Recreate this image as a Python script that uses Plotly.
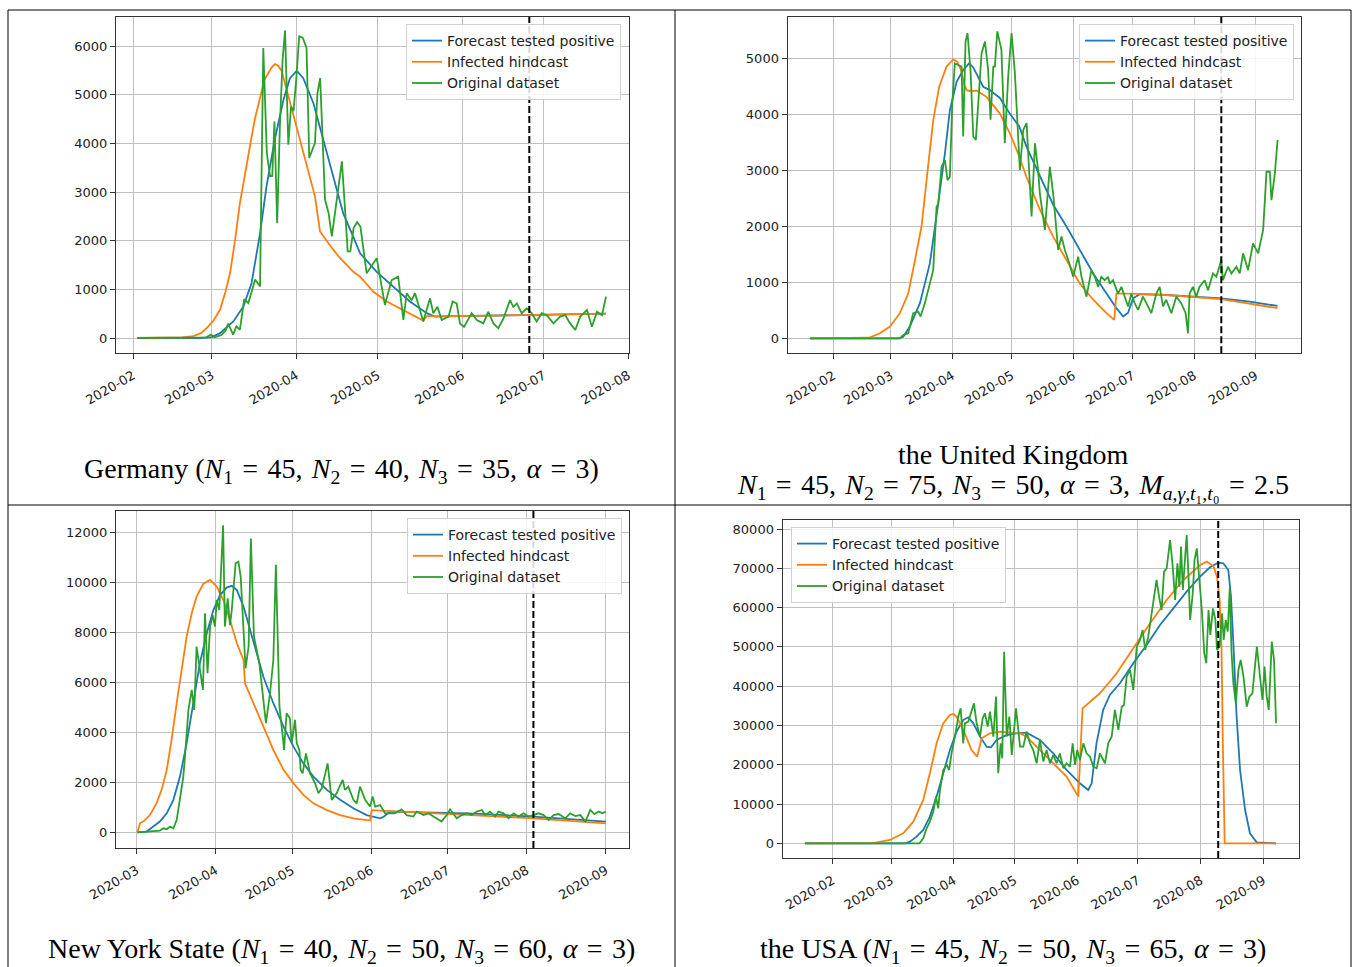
import pandas as pd
import plotly.graph_objects as go

BLUE, ORANGE, GREEN = "#1f77b4", "#ff7f0e", "#2ca02c"
SERIES_NAMES = ["Forecast tested positive", "Infected hindcast", "Original dataset"]

# ---------------- Germany (day offsets from 2020-02-01) ----------------
de_base = "2020-02-01"
de_green_day = [1.6, 15, 25, 27, 28.6, 30, 32.5, 34, 35, 36.8, 38, 39.3, 40.9, 42.4, 44.9, 46.7, 47.9, 49.2, 50.4, 51.2,
                52.0, 53.0, 54.0, 55.0, 55.9, 57.1, 58.1, 59, 60.0, 61.1, 62.4, 63.8, 64.8, 66.9, 67.8, 68.8, 70.6, 71.9,
                73.1, 75.6, 76.8, 78.7, 78.9, 79.9, 81.1, 82.4, 83.6, 85.9, 89.6, 92.6, 95.1, 97.5, 99.4, 100.6, 102.4,
                103.7, 106.7, 109.2, 110.4, 111.9, 113.5, 116, 117.5, 119, 120.2, 121.7, 124.5, 126.4, 128.8, 130.6,
                132.5, 134.3, 136.2, 138.6, 139.8, 141.1, 142.9, 144.8, 146.6, 148.4, 150.3, 152.1, 154.6, 157, 158.9,
                160.7, 162.6, 164.4, 166.9, 168.7, 170.6, 172.4, 173.9]
de_green_val = [0, 0, 5, 15, 70, 15, 60, 150, 295, 70, 240, 170, 800, 720, 1200, 1060, 5960, 3800, 3320, 3330,
                4450, 2360, 4350, 5720, 6320, 3970, 4760, 4660, 5300, 6200, 6170, 5960, 3700, 4010, 5030, 5340, 2840, 2570,
                2090, 3150, 3630, 1990, 1780, 1780, 2260, 2380, 2290, 1330, 1640, 680, 1190, 1260, 370, 920, 780,
                920, 340, 815, 510, 640, 370, 440, 750, 710, 300, 230, 510, 370, 300, 540,
                300, 200, 400, 780, 640, 710, 510, 610, 510, 340, 510, 470, 300, 440, 470,
                300, 165, 440, 575, 230, 540, 470, 850]
de_orange_day = [1.6, 12, 18, 22.2, 25, 27.1, 29.5, 32, 34, 35.7, 37.5, 39.3, 41.2, 43, 44.8, 46.7, 48.3, 49.8, 51, 52.2,
                 53.5, 54.7, 56.5, 58.9, 61, 63.2, 65, 66.9, 68.75, 71, 73.6, 76, 78.6, 81, 83.5, 88.4, 93.3, 99.4, 103,
                 106.7, 108, 120.2, 144.8, 173.9]
de_orange_val = [0, 3, 12, 40, 100, 205, 350, 580, 950, 1340, 2000, 2770, 3400, 3940, 4500, 4970, 5300, 5450, 5560, 5630,
                 5590, 5480, 5100, 4550, 4100, 3660, 3300, 2910, 2190, 2010, 1815, 1650, 1500, 1360, 1260, 950, 750, 575, 460,
                 360, 450, 450, 470, 500]
de_blue_day = [1.6, 25, 29, 32, 36.9, 40.6, 43.6, 46.7, 49.1, 52.2, 55.3, 57.7, 60.2, 62.6, 66.3, 70, 73.6, 77.3, 81,
               83.5, 89.6, 95.7, 101.8, 108, 111, 120, 145, 173.9]
de_blue_val = [0, 0, 20, 100, 340, 650, 1130, 2150, 3120, 4100, 4890, 5340, 5490, 5340, 4830, 4070, 3320, 2560, 2080,
               1740, 1360, 1050, 750, 510, 440, 450, 480, 500]
de_cut_day = 145.7
de_xrange_day = [-6.25, 182.35]
de_yrange = [-308, 6596]
de_yticks = [0, 1000, 2000, 3000, 4000, 5000, 6000]
de_xticks = ["2020-02-01", "2020-03-01", "2020-04-01", "2020-05-01", "2020-06-01", "2020-07-01", "2020-08-01"]

# ---------------- United Kingdom (day offsets from 2020-02-01) ----------------
uk_base = "2020-02-01"
uk_green_day = [-11.8, 0, 20, 33.6, 35.3, 37.8, 40.3, 42.8, 44, 46.2, 48.7, 50.4, 52.1, 52.9, 54.6, 56.3, 57.6, 58.8, 60,
                61.3, 63, 64.7, 65.5, 66.7, 67.7, 69.2, 70.6, 71.9, 73.1, 74.8, 76.5, 78.1, 79.3, 80.7, 81.5, 82.7, 84.8,
                86.5, 88.2, 89.9, 91.6, 94.1, 95.8, 97.5, 100, 101.7, 103.3, 104.2, 106.7, 109.2, 110.9, 113.4, 115.1,
                116.8, 118.5, 121, 123.5, 125.2, 127.7, 130.2, 131.9, 133.6, 135.2, 136.9, 138.6, 139.4, 141.1, 143.6,
                145.3, 147, 148.7, 150.3, 152, 153.7, 156.2, 157.9, 160.4, 162.9, 164.6, 166.3, 167.9, 170.5, 173,
                175.5, 177.7, 178.9, 179.7, 181.4, 183.1, 184.7, 187.3, 189, 191.5, 193.2, 195.7, 196.5, 199.1, 200.8,
                203.3, 205, 206.7, 209.2, 211.7, 214.3, 216.8, 218.5, 220.2, 221, 222.7, 224.1]
uk_green_val = [0, 0, 0, 0, 60, 90, 450, 480, 390, 630, 980, 1220, 2360, 2390, 3070, 3190, 2830, 2890, 4200,
                4920, 4890, 4860, 3610, 5310, 5460, 4800, 3610, 3550, 4200, 5100, 5310, 4800, 3910, 4860, 4860, 5490, 5160,
                3490, 4680, 5460, 4740, 3010, 3730, 3850, 2180, 3490, 3010, 2590, 1940, 3070, 2590, 1580, 1820,
                1580, 1400, 1100, 1460, 1100, 745, 1220, 1100, 920, 1100, 1040, 1100, 980, 1040, 800,
                920, 745, 570, 800, 630, 510, 745, 630, 450, 800, 920, 570, 690, 450, 745,
                630, 450, 90, 800, 920, 745, 920, 1040, 860, 1160, 1100, 1400, 1040, 1280, 1160,
                1280, 1160, 1520, 1220, 1700, 1520, 1940, 2980, 2980, 2470, 2950, 3550]
uk_orange_day = [-11.8, 10, 18, 23.5, 28.6, 33.6, 37.8, 41.2, 44.5, 47.6, 50.4, 53.4, 57.1, 60.5, 62.5, 64.4, 66, 67.2,
                 69.5, 72.3, 77.3, 84, 89, 93.2, 97.4, 104.2, 110.9, 117.6, 124.3, 131.1, 137.8, 141.7, 142.8, 150, 168,
                 195.7, 224.1]
uk_orange_val = [0, 2, 10, 90, 210, 450, 800, 1400, 2000, 3010, 3900, 4500, 4860, 4990, 4950, 4800, 4550, 4440,
                 4420, 4430, 4320, 4020, 3670, 3310, 2890, 2300, 1820, 1400, 980, 690, 450, 330, 800, 800, 775,
                 700, 540]
uk_blue_day = [-11.8, 33, 35.3, 38.6, 43.7, 48.7, 52.9, 56.3, 58.8, 62.2, 65.5, 68.5, 70.5, 72.2, 75.6, 78.9, 84, 89,
               93.8, 97.4, 104.2, 110.9, 117.6, 124.3, 131.1, 137.8, 142.8, 146.2, 148.7, 151.2, 154.6, 168, 184.7,
               195.7, 210, 224.1]
uk_blue_val = [0, 0, 30, 210, 630, 1340, 2410, 3310, 4080, 4590, 4800, 4920, 4850, 4740, 4500, 4440, 4300, 4020,
               3790, 3430, 2890, 2390, 2000, 1580, 1160, 800, 540, 390, 460, 715, 790, 775, 745,
               715, 655, 580]
uk_cut_day = 195.7
uk_xrange_day = [-23.0, 235.9]
uk_yrange = [-268, 5748]
uk_yticks = [0, 1000, 2000, 3000, 4000, 5000]
uk_xticks = ["2020-02-01", "2020-03-01", "2020-04-01", "2020-05-01", "2020-06-01", "2020-07-01", "2020-08-01",
             "2020-09-01"]

# ---------------- New York State (day offsets from 2020-03-01) ----------------
ny_base = "2020-03-01"
ny_green_day = [0.3, 3.9, 9.1, 10.5, 11.8, 13.1, 14.4, 15.7, 17, 18.3, 18.95, 20.3, 21.6, 22.6, 23.5, 25.5, 26, 26.8,
                27.8, 28.8, 29.8, 30.7, 31.4, 32.4, 33.9, 34.6, 35.7, 36.6, 37.3, 38.8, 39.9, 40.8, 41.6, 42.7, 43.9,
                44.8, 46, 48.1, 49.4, 50.7, 52.3, 53.6, 54.6, 56, 57.3, 57.8, 58.8, 60.1, 60.8, 62.1, 62.8, 63.8, 64.3,
                65.1, 66.4, 68, 70, 71.3, 72.6, 73.9, 74.9, 76.5, 78.4, 80.8, 81.7, 83, 85, 86.3, 87.6, 89.6, 91.5,
                92.6, 93.5, 95.5, 97.4, 99.4, 101.3, 103.9, 105.9, 108.5, 109.8, 112.5, 114.4, 116.4, 119.6, 121.6,
                122.9, 125.5, 127.5, 129.5, 131.4, 133.4, 135.4, 136.7, 138.6, 140.6, 141.9, 143.9, 145.8, 147.8,
                149.8, 151.7, 153.7, 155.6, 157.6, 159.6, 161.5, 163.5, 165.5, 168.1, 170, 172, 174, 176, 177.9,
                179.5, 181.2, 182.7, 184]
ny_green_val = [0, 30, 70, 160, 120, 230, 160, 490, 1300, 2230, 3030, 4900, 5700, 4900, 7440, 5970, 5700, 8770,
                6370, 8240, 8700, 8240, 9300, 8900, 12300, 8240, 9370, 8300, 8900, 10770, 10840, 10240, 8500, 6570, 7440,
                11770, 7840, 6770, 5570, 4370, 5570, 6900, 10710, 5030, 3830, 3300, 4770, 4570, 3560, 4500, 3560, 3300, 2500,
                2360, 3160, 2360, 1960, 1560, 1760, 2360, 2760, 1300, 1560, 2100, 1700, 1830, 1300, 1160, 1830, 1300, 1030,
                1430, 1030, 1090, 760, 760, 760, 920, 690, 630, 830, 690, 760, 630, 430, 690,
                920, 560, 690, 760, 690, 830, 895, 690, 830, 630, 830, 760, 560, 760,
                630, 760, 630, 690, 760, 690, 490, 690, 730, 560, 760, 650, 690, 430, 895,
                730, 830, 760, 830]
ny_orange_day = [0.3, 1.3, 2.6, 5.2, 7.8, 9.8, 11.8, 13.7, 15.7, 17.7, 19.6, 21.6, 23.5, 26.1, 28.8, 31.4, 34, 36.6,
                 39.3, 41.9, 42.5, 45.8, 49.7, 53.6, 57.6, 61.5, 65.4, 69.3, 74.6, 79.8, 85, 91.5, 92.2, 104.6, 130.7,
                 155.6, 184]
ny_orange_val = [0, 360, 430, 690, 1160, 1700, 2500, 3700, 5170, 6640, 7840, 8770, 9440, 9950, 10110, 9840, 9300, 8500,
                 7570, 6900, 5970, 5170, 4230, 3300, 2500, 1960, 1500, 1160, 890, 690, 560, 470, 890, 830, 690,
                 560, 360]
ny_blue_day = [0.3, 3.9, 6.5, 9.1, 11.8, 14.4, 17, 19.6, 22.2, 24.8, 27.5, 30.1, 32.7, 35.3, 37.3, 39.3, 41.9, 44.5,
               47.1, 49.7, 53.6, 57.6, 61.5, 65.4, 69.3, 74.6, 79.8, 85, 90.2, 93.5, 95.5, 97, 99.4, 130, 155.6, 184]
ny_blue_val = [0, 30, 230, 430, 760, 1300, 2230, 3560, 5170, 6770, 7970, 8900, 9500, 9800, 9870, 9700, 9040, 8100,
               7170, 6230, 5170, 4230, 3430, 2760, 2230, 1700, 1300, 960, 690, 600, 560, 630, 830, 760, 630, 430]
ny_cut_day = 155.6
ny_xrange_day = [-8.1, 193.2]
ny_yrange = [-629, 12868]
ny_yticks = [0, 2000, 4000, 6000, 8000, 10000, 12000]
ny_xticks = ["2020-03-01", "2020-04-01", "2020-05-01", "2020-06-01", "2020-07-01", "2020-08-01", "2020-09-01"]

# ---------------- USA (day offsets from 2020-02-01) ----------------
us_base = "2020-02-01"
us_green_day = [-13.7, 0, 20, 43, 44.8, 46.5, 48.1, 49.8, 51.1, 52.2, 53.1, 54.7, 56.4, 57.6, 58.8, 60.5, 62.1, 63.3,
                64.6, 65.4, 67.1, 68.7, 69.9, 71.2, 72.9, 74.2, 75.3, 76.7, 77.8, 79.5, 80.8, 81.9, 83.1, 83.9, 84.8,
                86.1, 87.4, 88.6, 90.7, 92.7, 94.3, 95.9, 97.6, 99.2, 100.9, 102.5, 104.2, 105.8, 107.5, 109.1, 110.8,
                112.4, 114.1, 115.7, 117.4, 118.7, 119.9, 121, 122.3, 124, 125.6, 127.3, 128.9, 130.6, 132.2, 134.7,
                136.3, 138, 139.6, 141.3, 143, 144.1, 145.4, 147.1, 148.7, 150.4, 152, 153.3, 154.6, 156.1, 157.8,
                158.6, 160.2, 161.6, 162.7, 163.9, 165.2, 166.9, 168.2, 169.4, 170.5, 171.5, 172.3, 173.2, 174, 175.1,
                176, 176.8, 178.1, 179, 180.1, 181.3, 182.6, 183.8, 184.8, 185.9, 186.8, 188.1, 189.3, 190.1, 191.4,
                192.6, 193.4, 194.4, 195.4, 196.4, 197.3, 198.2, 199.4, 200.7, 201.8, 203.2, 204.8, 206.1, 207.6,
                209.8, 211.1, 212.6, 213.6, 214.7, 215.7, 217.2, 218.3, 219.3]
us_green_val = [0, 0, 0, 0, 1270, 3820, 5510, 8060, 11880, 8900, 13570, 18660, 19940, 18660, 22900, 27150, 32240, 34360,
                25450, 30540, 30970, 33940, 35630, 30540, 27150, 31820, 33090, 29690, 33510, 27150, 37330, 17820, 25450,
                21630, 48780, 27150, 32240, 22480, 34360, 24600, 24600, 28420, 25450, 23750, 20360, 26300, 20790, 23750,
                20360, 22480, 20360, 22900, 19090, 20360, 19510, 25450, 19940, 23750, 21210, 25450, 22900, 22060, 19510,
                19090, 22900, 20360, 25450, 27150, 33940, 28850, 34780, 35210, 42420, 44120, 39030, 50060, 51750, 54300,
                49210, 52600, 58540, 61080, 67020, 62360, 59390, 69140, 69990, 77200, 70420, 61930, 71270, 65330, 75510,
                64480, 71270, 78470, 67870, 56840, 63630, 72120, 75080, 67870, 59390, 48360, 45810, 59390, 53030, 59810,
                56840, 49210, 50060, 58540, 51750, 56840, 53870, 64900, 48360, 40720, 35630, 44120, 46660, 42420, 34780,
                37330, 38180, 50060, 44120, 36480, 44970, 37330, 33940, 51330, 46660, 30540]
us_orange_day = [-13.7, 20, 28.3, 34.9, 39.9, 44.8, 48.1, 51.4, 54.7, 58, 59.7, 61.3, 64.6, 68.7, 71.5, 73.7, 77.8,
                 82.8, 87.7, 92.7, 95.9, 102.5, 109.1, 115.7, 121.5, 123.6, 132.2, 140.5, 148.7, 157, 165.2, 173.5,
                 181.8, 185.1, 188.4, 190.1, 191.4, 192.3, 193, 193.9, 219.3]
us_orange_val = [0, 50, 850, 2550, 5510, 11030, 17820, 25450, 30540, 32660, 32920, 32240, 28850, 23750, 22060, 26720,
                 28000, 28420, 28170, 28000, 27150, 23750, 20360, 16970, 11880, 34360, 38180, 43270, 49630, 55990, 61930,
                 67020, 70840, 71690, 70420, 67870, 62000, 50000, 25000, 0, 0]
us_blue_day = [-13.7, 36, 38.2, 41.5, 44.8, 48.1, 51.4, 54.7, 58, 61.3, 64.6, 67.1, 69.6, 72.9, 76.2, 78.3, 81.1, 86.1,
               91, 95.9, 102.5, 109.1, 115.7, 122.3, 126.4, 128.1, 130.5, 133.8, 137.1, 142.1, 148.7, 155.3, 161.9,
               168.5, 175.1, 181.7, 186.6, 190.7, 193.2, 195.7, 197, 198.2, 199.8, 201.5, 204, 206.4, 209.7, 219.3]
us_blue_val = [0, 0, 420, 1700, 3390, 6790, 11880, 17820, 23750, 28420, 31390, 32070, 30540, 27150, 24600, 24430, 26300,
               27570, 28000, 28170, 26300, 22900, 18660, 15270, 13570, 15270, 25450, 33940, 37750, 40720, 45810, 50480,
               55570, 59810, 64050, 67870, 70250, 71440, 71270, 69570, 62780, 50900, 32240, 18660, 8480, 2550, 250, 0]
us_cut_day = 190.7
us_xrange_day = [-24.7, 230.8]
us_yrange = [-3740, 82290]
us_yticks = [0, 10000, 20000, 30000, 40000, 50000, 60000, 70000, 80000]
us_xticks = ["2020-02-01", "2020-03-01", "2020-04-01", "2020-05-01", "2020-06-01", "2020-07-01", "2020-08-01",
             "2020-09-01"]

SP = "\u2004"  # slightly wider space, mimicking TeX math spacing
EQ = SP + "=" + SP
captions = {
    "de": f"Germany (<i>N</i><sub>1</sub>{EQ}45,{SP}<i>N</i><sub>2</sub>{EQ}40,{SP}<i>N</i><sub>3</sub>{EQ}35,{SP}<i>α</i>{EQ}3)",
    "uk1": "the United Kingdom",
    "uk2": f"<i>N</i><sub>1</sub>{EQ}45,{SP}<i>N</i><sub>2</sub>{EQ}75,{SP}<i>N</i><sub>3</sub>{EQ}50,{SP}<i>α</i>{EQ}3,{SP}"
           f"<i>M</i><sub><i>a</i>,<i>γ</i>,<i>t</i>₁,<i>t</i>₀</sub>{EQ}2.5",
    "ny": f"New York State (<i>N</i><sub>1</sub>{EQ}40,{SP}<i>N</i><sub>2</sub>{EQ}50,{SP}<i>N</i><sub>3</sub>{EQ}60,{SP}<i>α</i>{EQ}3)",
    "us": f"the USA (<i>N</i><sub>1</sub>{EQ}45,{SP}<i>N</i><sub>2</sub>{EQ}50,{SP}<i>N</i><sub>3</sub>{EQ}65,{SP}<i>α</i>{EQ}3)",
}

# ---------------- layout helpers (pixel -> paper) ----------------
W, H = 1354, 967


def fx(px):
    return px / W


def fy(py):
    return 1 - py / H


def to_dates(base, days):
    b = pd.Timestamp(base)
    return [(b + pd.Timedelta(days=float(d))).strftime("%Y-%m-%d %H:%M:%S") for d in days]


panels = [
    dict(base=de_base, g=(de_green_day, de_green_val), o=(de_orange_day, de_orange_val), b=(de_blue_day, de_blue_val),
         cut=de_cut_day, xr=de_xrange_day, yr=de_yrange, yt=de_yticks, xt=de_xticks,
         box=(116, 629, 17, 353), leg=dict(x=fx(621), y=fy(24), xanchor="right", yanchor="top")),
    dict(base=uk_base, g=(uk_green_day, uk_green_val), o=(uk_orange_day, uk_orange_val), b=(uk_blue_day, uk_blue_val),
         cut=uk_cut_day, xr=uk_xrange_day, yr=uk_yrange, yt=uk_yticks, xt=uk_xticks,
         box=(787.7, 1301, 17, 353.3), leg=dict(x=fx(1294), y=fy(24), xanchor="right", yanchor="top")),
    dict(base=ny_base, g=(ny_green_day, ny_green_val), o=(ny_orange_day, ny_orange_val), b=(ny_blue_day, ny_blue_val),
         cut=ny_cut_day, xr=ny_xrange_day, yr=ny_yrange, yt=ny_yticks, xt=ny_xticks,
         box=(116, 629.3, 511, 848), leg=dict(x=fx(622), y=fy(518), xanchor="right", yanchor="top")),
    dict(base=us_base, g=(us_green_day, us_green_val), o=(us_orange_day, us_orange_val), b=(us_blue_day, us_blue_val),
         cut=us_cut_day, xr=us_xrange_day, yr=us_yrange, yt=us_yticks, xt=us_xticks,
         box=(782.7, 1299.3, 520, 858), leg=dict(x=fx(791), y=fy(527), xanchor="left", yanchor="top")),
]

TICKFONT = dict(family="DejaVu Sans", size=13, color="#222222")

fig = go.Figure()
layout = dict(width=W, height=H, margin=dict(l=0, r=0, t=0, b=0), plot_bgcolor="white", paper_bgcolor="white",
              showlegend=True, shapes=[], annotations=[])

for i, p in enumerate(panels, start=1):
    sx = "" if i == 1 else str(i)
    xa, ya = "x" + sx, "y" + sx
    legname = "legend" + sx
    for name, key, col in zip(SERIES_NAMES, ["b", "o", "g"], [BLUE, ORANGE, GREEN]):
        days, vals = p[key]
        fig.add_trace(go.Scatter(x=to_dates(p["base"], days), y=vals, mode="lines", name=name,
                                 line=dict(color=col, width=1.8), xaxis=xa, yaxis=ya, legend=legname,
                                 legendgroup=name + sx, showlegend=True))
    x0, x1, y0, y1 = p["box"]
    layout["xaxis" + sx] = dict(
        domain=[fx(x0), fx(x1)], anchor=ya, type="date",
        range=to_dates(p["base"], p["xr"]),
        tickvals=p["xt"], ticktext=[t[:7] for t in p["xt"]], tickangle=-30, ticklabelstandoff=4,
        showgrid=True, gridcolor="#c0c0c0", gridwidth=1,
        showline=True, mirror=True, linecolor="#333333", linewidth=1.3,
        ticks="outside", ticklen=5, tickcolor="#333333", tickfont=TICKFONT, automargin=False, zeroline=False)
    layout["yaxis" + sx] = dict(
        domain=[fy(y1), fy(y0)], anchor=xa, range=p["yr"],
        tickvals=p["yt"], tickformat="d",
        showgrid=True, gridcolor="#c0c0c0", gridwidth=1,
        showline=True, mirror=True, linecolor="#333333", linewidth=1.3,
        ticks="outside", ticklen=5, tickcolor="#333333", tickfont=TICKFONT, automargin=False, zeroline=False)
    layout[legname] = dict(p["leg"], bgcolor="rgba(255,255,255,0.85)", bordercolor="#d0d0d0", borderwidth=1,
                           font=dict(family="DejaVu Sans", size=14, color="#222222"), tracegroupgap=0,
                           traceorder="normal", itemwidth=30)
    cut = to_dates(p["base"], [p["cut"]])[0]
    layout["shapes"].append(dict(type="line", xref=xa, yref=ya + " domain", x0=cut, x1=cut, y0=0, y1=1,
                                 line=dict(color="black", width=2, dash="7px,3px"), layer="above"))

# table borders
border = dict(color="black", width=1)
for (xa0, ya0, xa1, ya1) in [(8, 10, 1351, 10), (8, 505, 1351, 505), (8, 10, 8, 967), (675, 10, 675, 967),
                             (1351, 10, 1351, 967)]:
    layout["shapes"].append(dict(type="line", xref="paper", yref="paper", x0=fx(xa0), y0=fy(ya0), x1=fx(xa1),
                                 y1=fy(ya1), line=border, layer="above"))

CAPFONT = dict(family="Liberation Serif", size=28, color="black")
for key, cx, cy in [("de", 341.5, 470), ("uk1", 1013, 455), ("uk2", 1013, 486), ("ny", 341, 950), ("us", 1013, 950)]:
    layout["annotations"].append(dict(text=captions[key], x=fx(cx), y=fy(cy), xref="paper", yref="paper",
                                      xanchor="center", yanchor="middle", showarrow=False, font=CAPFONT))

fig.update_layout(**layout)
fig.write_html("out.html")
